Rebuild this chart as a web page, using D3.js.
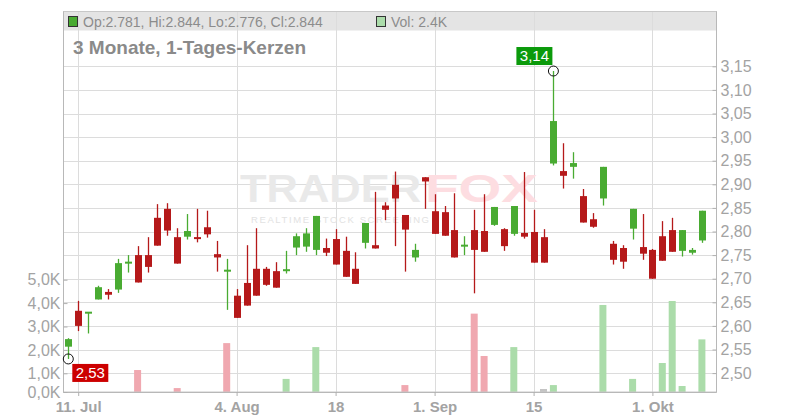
<!DOCTYPE html>
<html><head><meta charset="utf-8">
<script src="https://cdn.jsdelivr.net/npm/d3@7"></script>
<style>body{margin:0;background:#fff} svg{display:block;font-family:"Liberation Sans",Arial,sans-serif}</style>
</head><body><svg id="c" width="800" height="420"></svg>
<script>
const dates = [
 "2025-07-10","2025-07-11","2025-07-14","2025-07-15","2025-07-16","2025-07-17","2025-07-18","2025-07-21","2025-07-22","2025-07-23",
 "2025-07-24","2025-07-25","2025-07-28","2025-07-29","2025-07-30","2025-07-31","2025-08-01","2025-08-04","2025-08-05","2025-08-06",
 "2025-08-07","2025-08-08","2025-08-11","2025-08-12","2025-08-13","2025-08-14","2025-08-15","2025-08-18","2025-08-19","2025-08-20",
 "2025-08-21","2025-08-22","2025-08-25","2025-08-26","2025-08-27","2025-08-28","2025-08-29","2025-09-01","2025-09-02","2025-09-03",
 "2025-09-04","2025-09-05","2025-09-08","2025-09-09","2025-09-10","2025-09-11","2025-09-12","2025-09-15","2025-09-16","2025-09-17",
 "2025-09-18","2025-09-19","2025-09-22","2025-09-23","2025-09-24","2025-09-25","2025-09-26","2025-09-29","2025-09-30","2025-10-01",
 "2025-10-02","2025-10-03","2025-10-06","2025-10-07","2025-10-08"];
const open  = [2.556,2.632,2.624,2.656,2.672,2.677,2.732,2.750,2.750,2.829, 2.848,2.788,2.789,2.786,2.809,2.752,2.715,2.664,2.691,2.721,
 2.721,2.716,2.714,2.766,2.768,2.761,2.765,2.784,2.759,2.721, 2.776,2.771,2.855,2.899,2.835,2.745,2.915,2.843,2.841,2.803,
 2.768,2.803,2.801,2.814,2.805,2.795,2.797,2.799,2.788,2.944, 2.928,2.937,2.875,2.826,2.870,2.774,2.765,2.806,2.767,2.761,
 2.790,2.803,2.759,2.755,2.781];
const high  = [2.574,2.653,2.629,2.685,2.678,2.742,2.750,2.769,2.788,2.858, 2.860,2.807,2.837,2.848,2.844,2.780,2.742,2.678,2.771,2.807,
 2.725,2.735,2.759,2.796,2.807,2.833,2.785,2.805,2.789,2.756, 2.818,2.884,2.862,2.927,2.835,2.774,2.915,2.879,2.854,2.881,
 2.790,2.846,2.879,2.852,2.807,2.854,2.926,2.846,2.805,3.140, 2.987,2.968,2.890,2.839,2.937,2.780,2.771,2.848,2.837,2.763,
 2.822,2.829,2.803,2.765,2.844];
const low   = [2.530,2.589,2.584,2.656,2.656,2.670,2.713,2.692,2.713,2.770, 2.791,2.732,2.783,2.777,2.787,2.715,2.634,2.617,2.643,2.664,
 2.685,2.681,2.711,2.750,2.757,2.750,2.748,2.730,2.704,2.689, 2.764,2.764,2.824,2.769,2.715,2.736,2.848,2.795,2.791,2.745,
 2.750,2.669,2.757,2.812,2.759,2.791,2.785,2.734,2.734,2.940, 2.891,2.912,2.819,2.808,2.855,2.730,2.721,2.783,2.740,2.700,
 2.738,2.757,2.747,2.751,2.776];
const close = [2.572,2.600,2.628,2.682,2.666,2.733,2.734,2.692,2.725,2.770, 2.802,2.732,2.801,2.782,2.794,2.745,2.717,2.617,2.643,2.664,
 2.687,2.681,2.718,2.790,2.796,2.833,2.755,2.730,2.704,2.689, 2.818,2.764,2.846,2.870,2.804,2.761,2.906,2.795,2.791,2.745,
 2.770,2.761,2.757,2.852,2.769,2.854,2.789,2.734,2.734,3.034, 2.918,2.945,2.819,2.810,2.937,2.740,2.736,2.848,2.753,2.700,
 2.738,2.757,2.803,2.761,2.844];
const volume = [0,0,0,0,0,0,0,1140,0,0, 0,210,0,0,0,0,2290,0,0,0,
 0,0,700,0,0,2120,0,0,0,0, 0,0,0,0,370,0,0,0,0,0,
 0,3550,1740,0,0,2120,0,0,160,370, 0,0,0,0,3920,0,0,700,0,0,
 1440,4090,320,0,2450];
const priceTicks = [2.50,2.55,2.60,2.65,2.70,2.75,2.80,2.85,2.90,2.95,3.00,3.05,3.10,3.15];
const volTicks = [0,1000,2000,3000,4000,5000];
const volTickLabels = ["0,0K","1,0K","2,0K","3,0K","4,0K","5,0K"];
const dateTicks = ["2025-07-11","2025-08-04","2025-08-18","2025-09-01","2025-09-15","2025-10-01"];
const dateTickLabels = ["11. Jul","4. Aug","18","1. Sep","15","1. Okt"];
const title = "3 Monate, 1-Tages-Kerzen";

const svg = d3.select("#c");
const L = 63.5, R = 716.5, T = 11.5, B = 392;
const x = d3.scalePoint().domain(dates).range([68.3, 701.9]);
const y = d3.scaleLinear().domain([2.50, 3.15]).range([373.1, 66.3]);
const v = d3.scaleLinear().domain([0, 1000, 5000]).range([B, 373.3, 279.7]);

const RED = "#b5191a", GREEN = "#49ab32";
const VRED = "#f0a8b0", VGREEN = "#abdcaa", VGRAY = "#c4c4c4";
const TXT = "#a3a3a3";

// header band
svg.append("rect").attr("x", L).attr("y", T).attr("width", R - L).attr("height", 19).attr("fill", "#e4e4e4");

// grid
svg.append("g").selectAll("line").data(priceTicks).join("line")
  .attr("x1", L).attr("x2", R).attr("y1", d => Math.round(y(d)) + 0.5).attr("y2", d => Math.round(y(d)) + 0.5)
  .attr("stroke", "#dcdcdc");
svg.append("g").selectAll("line").data(dateTicks).join("line")
  .attr("y1", T).attr("y2", B).attr("x1", d => Math.round(x(d)) + 0.5).attr("x2", d => Math.round(x(d)) + 0.5)
  .attr("stroke", "#dcdcdc");

// watermark
const wm = svg.append("g").attr("font-weight", "bold");
wm.append("text").attr("x", 240).attr("y", 202).attr("font-size", 38).attr("fill", "#e9e9e9")
  .attr("textLength", 181).attr("lengthAdjust", "spacingAndGlyphs").text("TRADER");
wm.append("text").attr("x", 425).attr("y", 202).attr("font-size", 38).attr("fill", "#fddde1")
  .attr("textLength", 113).attr("lengthAdjust", "spacingAndGlyphs").text("FOX");
wm.append("text").attr("x", 251).attr("y", 222.5).attr("font-size", 9.5).attr("font-weight", "normal").attr("fill", "#e2e2e2")
  .attr("textLength", 178).attr("lengthAdjust", "spacing").text("REALTIME STOCK SCREENING");

// volume bars
const idx = d3.range(dates.length);
const vcol = i => i === 0 ? VGREEN : (close[i] > close[i-1] ? VGREEN : close[i] < close[i-1] ? VRED : VGRAY);
svg.append("g").selectAll("rect").data(idx.filter(i => volume[i] > 0)).join("rect")
  .attr("x", i => x(dates[i]) - 3.5).attr("width", 7)
  .attr("y", i => v(volume[i])).attr("height", i => B - v(volume[i]))
  .attr("fill", vcol);

// candles
const cg = svg.append("g");
const col = i => close[i] >= open[i] ? GREEN : RED;
cg.selectAll("line").data(idx).join("line")
  .attr("x1", i => Math.round(x(dates[i])) + 0.5).attr("x2", i => Math.round(x(dates[i])) + 0.5)
  .attr("y1", i => y(high[i])).attr("y2", i => y(low[i]))
  .attr("stroke", col).attr("stroke-width", 1.3);
cg.selectAll("rect").data(idx).join("rect")
  .attr("x", i => Math.round(x(dates[i])) + 0.5 - 3.5).attr("width", 7)
  .attr("y", i => Math.min(y(open[i]), y(close[i])) - (Math.abs(y(open[i]) - y(close[i])) < 2 ? 1 : 0))
  .attr("height", i => Math.max(Math.abs(y(open[i]) - y(close[i])), 2))
  .attr("fill", col);

// frame
svg.append("rect").attr("x", L).attr("y", T).attr("width", R - L).attr("height", B - T)
  .attr("fill", "none").attr("stroke", "#c8c8c8");
svg.append("line").attr("x1", L).attr("x2", L).attr("y1", T).attr("y2", B + 0.5).attr("stroke", "#b8b8b8");
svg.append("line").attr("x1", R).attr("x2", R).attr("y1", T).attr("y2", B + 0.5).attr("stroke", "#b8b8b8");
svg.append("line").attr("x1", L).attr("x2", R).attr("y1", B + 0.5).attr("y2", B + 0.5).attr("stroke", "#b8b8b8");

// axes
const fmtP = d3.format(".2f");
const ay = svg.append("g").attr("transform", `translate(${R},0)`)
  .call(d3.axisRight(y).tickValues(priceTicks).tickSizeInner(-4).tickSizeOuter(0).tickPadding(4)
    .tickFormat(d => fmtP(d).replace(".", ",")));
const av = svg.append("g").attr("transform", `translate(${L},0)`)
  .call(d3.axisLeft(v).tickValues(volTicks).tickSizeInner(-4).tickSizeOuter(0).tickPadding(3)
    .tickFormat((d, i) => volTickLabels[i]));
const ax = svg.append("g").attr("transform", `translate(0,${B})`)
  .call(d3.axisBottom(x).tickValues(dateTicks).tickSizeInner(4).tickSizeOuter(0).tickPadding(5)
    .tickFormat((d, i) => dateTickLabels[i]));
[ay, av, ax].forEach(g => {
  g.select(".domain").remove();
  g.selectAll(".tick line").attr("stroke", "#b0b0b0");
  g.selectAll(".tick text").attr("fill", TXT).attr("font-family", '"Liberation Sans",Arial,sans-serif').attr("font-size", 16);
});
ax.selectAll(".tick text").attr("font-size", 15).attr("font-weight", "bold");

// header text
const n = dates.length - 1;
const f3 = d3.format(".3f");
svg.append("rect").attr("x", 68.5).attr("y", 16.5).attr("width", 9).attr("height", 10)
  .attr("fill", GREEN).attr("stroke", "#333");
svg.append("text").attr("x", 83).attr("y", 26.5).attr("font-size", 14).attr("fill", "#8c8c8c")
  .text(`Op:${f3(open[n])}, Hi:${f3(high[n])}, Lo:${f3(low[n])}, Cl:${f3(close[n])}`);
svg.append("rect").attr("x", 376.5).attr("y", 16.5).attr("width", 9).attr("height", 10)
  .attr("fill", VGREEN).attr("stroke", "#333");
svg.append("text").attr("x", 391).attr("y", 26.5).attr("font-size", 14).attr("fill", "#8c8c8c")
  .text(`Vol: ${(Math.floor(volume[n] / 100) / 10).toFixed(1)}K`);

svg.append("text").attr("x", 73).attr("y", 54).attr("font-size", 19).attr("font-weight", "bold").attr("fill", "#8a8a8a")
  .text(title);

// high / low markers
const iMax = d3.maxIndex(high), iMin = d3.minIndex(low);
const fmtC = d => fmtP(d).replace(".", ",");
function marker(i, val, isHigh) {
  const cx = x(dates[i]), cy = y(val);
  const g = svg.append("g");
  g.append("circle").attr("cx", cx).attr("cy", cy).attr("r", 5).attr("fill", "none").attr("stroke", "#111").attr("stroke-width", 1);
  const bw = 36, bh = 18;
  const bx = isHigh ? cx - bw - 1 : cx + 4;
  const by = isHigh ? cy - bh - 6 : cy + 5;
  g.append("rect").attr("x", bx).attr("y", by).attr("width", bw).attr("height", bh).attr("fill", isHigh ? "#0b9a0b" : "#cc0000");
  g.append("text").attr("x", bx + bw / 2).attr("y", by + 14).attr("text-anchor", "middle").attr("font-size", 15)
    .attr("fill", "#fff").text(fmtC(val));
}
marker(iMax, high[iMax], true);
marker(iMin, low[iMin], false);
</script></body></html>
